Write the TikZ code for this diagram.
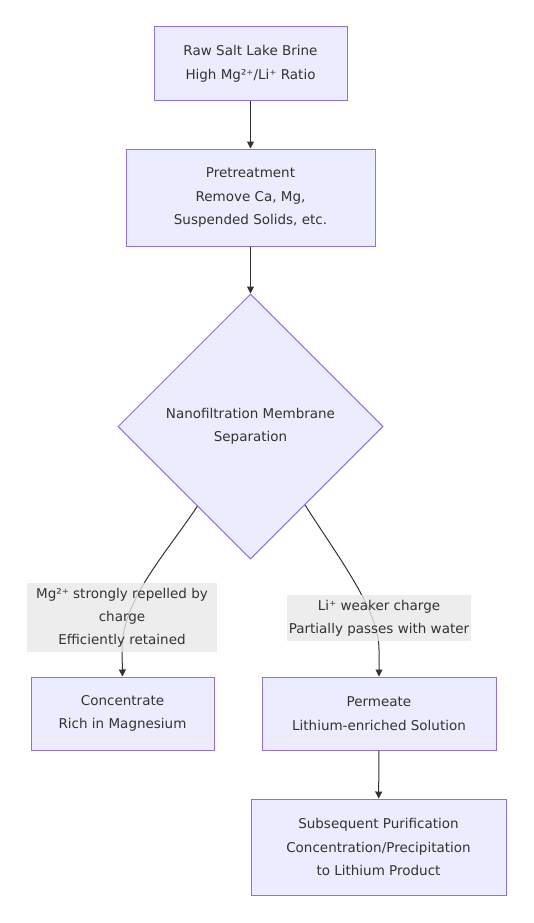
\documentclass[tikz,border=0pt]{standalone}
\usepackage{fontspec}
\setmainfont{DejaVu Sans}
\usetikzlibrary{positioning,shapes.geometric,calc,arrows.meta}
\definecolor{boxfill}{HTML}{ECECFF}
\definecolor{boxline}{HTML}{9370DB}
\definecolor{txtgray}{HTML}{333333}
\definecolor{lblfill}{HTML}{E8E8E8}
\tikzset{
  stagebox/.style={draw=boxline, fill=boxfill, line width=1pt, align=center, text=txtgray, inner sep=0pt, font=\fontsize{13.5}{23.5}\selectfont},
  decision/.style={diamond, draw=boxline, fill=boxfill, line width=1pt, align=center, text=txtgray, inner sep=0pt, minimum width=265pt, minimum height=265pt, font=\fontsize{13.5}{23.5}\selectfont},
  edgelabel/.style={fill=lblfill, fill opacity=0.8, text opacity=1, text=txtgray, align=center, inner sep=0pt, font=\fontsize{13.5}{23}\selectfont},
  flow/.style={draw=txtgray, line width=1pt, -{Triangle[length=7pt,width=7pt]}}
}
\begin{document}
\begin{tikzpicture}[x=1pt,y=-1pt]
				\useasboundingbox (0,0) rectangle (533,923);
				\node[stagebox, minimum width=193pt, minimum height=74pt] (brine) at (250.5, 64) {Raw Salt Lake Brine\\High Mg²⁺/Li⁺ Ratio};
				\node[stagebox, minimum width=249pt, minimum height=97pt] (pretreat) at (250.5, 197.5) {Pretreatment\\Remove Ca, Mg,\\Suspended Solids, etc.};
				\node[decision] (nf) at (250.5, 426.5) {Nanofiltration Membrane\\Separation};
				\node[stagebox, minimum width=183pt, minimum height=73pt] (conc) at (122.5, 713.5) {Concentrate\\Rich in Magnesium};
				\node[stagebox, minimum width=234pt, minimum height=73pt] (perm) at (379, 713.5) {Permeate\\Lithium-enriched Solution};
				\node[stagebox, minimum width=255pt, minimum height=96pt] (purif) at (378.5, 847) {Subsequent Purification\\Concentration/Precipitation\\to Lithium Product};
				\draw[flow] (brine) -- (pretreat);
				\draw[flow] (pretreat) -- (nf.north);
				\draw[flow] ($(nf.west)!0.6!(nf.south)$) .. controls (165,555) and (122,600) .. (122,650) -- (conc.north);
				\draw[flow] ($(nf.south)!0.41!(nf.east)$) .. controls (340,560) and (379,610) .. (379,650) -- (perm.north);
				\draw[flow] (perm) -- (purif);
				\node[edgelabel, minimum width=190pt, minimum height=69pt] (retained) at (122, 617.5) {Mg²⁺ strongly repelled by\\charge\\Efficiently retained};
				\node[edgelabel, minimum width=184pt, minimum height=46pt] (passes) at (379, 618) {Li⁺ weaker charge\\Partially passes with water};
\end{tikzpicture}
\end{document}
